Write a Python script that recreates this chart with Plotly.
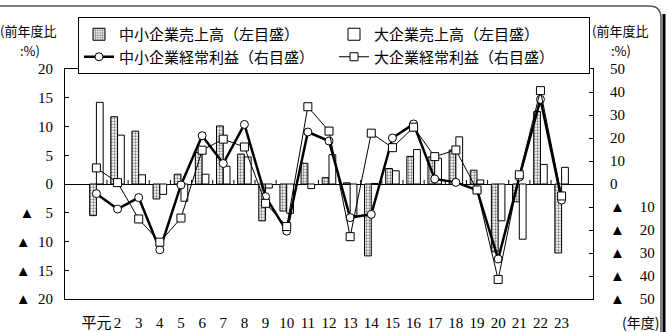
import plotly.graph_objects as go

# ---------------- data ----------------
years = ["平元", "2", "3", "4", "5", "6", "7", "8", "9", "10", "11", "12",
         "13", "14", "15", "16", "17", "18", "19", "20", "21", "22", "23"]

sme_sales = [-5.5, 11.7, 9.2, -2.6, 1.7, 5.5, 10.1, 5.2, -6.4, -4.7, 3.6, 1.1,
             0.2, -12.5, 2.7, 4.8, 4.7, 5.9, 2.4, -11.8, -3.1, 12.6, -12.0]
large_sales = [14.2, 8.5, 1.6, -1.8, -3.0, 1.7, 3.1, 4.7, -0.7, -5.1, -0.8, 5.1,
               -5.5, 0.1, 2.3, 6.0, 4.5, 8.2, 0.7, -6.4, -9.6, 3.4, 2.9]
sme_profit = [-4.2, -10.9, -5.9, -28.6, -0.4, 21.0, 8.9, 25.9, -5.5, -20.5, 22.6, 18.7,
              -14.6, -13.2, 20.0, 26.1, 2.2, 0.7, -2.6, -32.6, 3.0, 36.8, -7.0]
large_profit = [7.0, 0.6, -15.2, -25.3, -14.8, 14.7, 19.5, 16.1, -8.4, -18.5, 33.6, 23.0,
                -22.9, 22.1, 15.8, 24.7, 11.9, 14.8, -2.6, -41.5, 4.0, 40.6, -5.2]

left_ticks = [20, 15, 10, 5, 0, -5, -10, -15, -20]
right_ticks = [50, 40, 30, 20, 10, 0, -10, -20, -30, -40, -50]

names = ["中小企業売上高（左目盛）", "大企業売上高（左目盛）",
         "中小企業経常利益（右目盛）", "大企業経常利益（右目盛）"]

def tri_label(v, pad):
    return f"{v}" if v >= 0 else "▲" + pad + f"{-v}"

left_text = [tri_label(v, "\u2002" if abs(v) >= 10 else "\u2002 ") for v in left_ticks]
right_text = [tri_label(v, "\u2002\u2002") for v in right_ticks]

# ---------------- layout geometry ----------------
W, H = 667, 332
L, R, T, B = 65, 74, 69, 33
PW, PH = W - L - R, H - T - B

def px(x):
    return (x - L) / PW

def py(y):
    return (H - B - y) / PH

SERIF = "Liberation Serif, Noto Sans CJK JP"
CJK = "Noto Sans CJK JP, Liberation Serif"

fig = go.Figure()

fig.add_trace(go.Bar(
    x=years, y=sme_sales, name=names[0],
    marker=dict(color="white", line=dict(color="black", width=1),
                pattern=dict(shape=".", fgcolor="black", bgcolor="white",
                             size=3, solidity=0.45)),
))
fig.add_trace(go.Bar(
    x=years, y=large_sales, name=names[1],
    marker=dict(color="white", line=dict(color="black", width=1)),
))
fig.add_trace(go.Scatter(
    x=years, y=sme_profit, name=names[2], yaxis="y2", mode="lines+markers",
    line=dict(color="black", width=2.5),
    marker=dict(symbol="circle", size=8, color="white",
                line=dict(color="black", width=1)),
))
fig.add_trace(go.Scatter(
    x=years, y=large_profit, name=names[3], yaxis="y2", mode="lines+markers",
    line=dict(color="black", width=1),
    marker=dict(symbol="square", size=8, color="white",
                line=dict(color="black", width=1)),
))

shapes = []
# small category boundary ticks on the zero line
for i in range(len(years) - 1):
    shapes.append(dict(type="line", xref="x", yref="y", x0=i + 0.5, x1=i + 0.5,
                       y0=0, y1=0.7, line=dict(color="black", width=1)))
# legend shadow
shapes.append(dict(type="rect", xref="paper", yref="paper",
                   x0=px(82), x1=px(581), y0=py(20), y1=py(64),
                   fillcolor="black", line=dict(width=0), layer="above"))
# outer rounded frame
r = 12
path = (f"M {px(-10)},{py(6)} L {px(661 - r)},{py(6)} "
        f"Q {px(661)},{py(6)} {px(661)},{py(6 + r)} "
        f"L {px(661)},{py(340)}")
shapes.append(dict(type="path", xref="paper", yref="paper", path=path,
                   line=dict(color="#555", width=1.5)))
shapes.append(dict(type="line", xref="paper", yref="paper",
                   x0=px(664), x1=px(664), y0=py(14), y1=py(340),
                   line=dict(color="black", width=3)))

def note(text, x, y, size=13):
    return dict(text=text, x=px(x), y=py(y), xref="paper", yref="paper",
                xanchor="center", yanchor="middle", showarrow=False,
                font=dict(family=CJK, size=size, color="black"))

annotations = [
    note("(前年度比", 28, 30), note(":%)", 30, 50),
    note("(前年度比", 620, 30), note(":%)", 621, 50),
    note("(年度)", 640, 322, 14),
]

fig.update_layout(
    width=W, height=H,
    margin=dict(l=L, r=R, t=T, b=B, pad=0, autoexpand=False),
    paper_bgcolor="white", plot_bgcolor="white",
    barmode="group", bargap=0.36, bargroupgap=0,
    font=dict(family=SERIF, size=15, color="black"),
    showlegend=True,
    legend=dict(orientation="h", x=px(78), y=py(17), xanchor="left", yanchor="top",
                bgcolor="white", bordercolor="black", borderwidth=1,
                font=dict(family=CJK, size=15, color="black"),
                entrywidth=210, entrywidthmode="pixels", itemwidth=30,
                traceorder="normal", tracegroupgap=0),
    xaxis=dict(type="category", showline=True, linecolor="black", linewidth=1,
               mirror=True, ticks="", showgrid=False, tickangle=0, automargin=False,
               tickfont=dict(family=SERIF, size=15), ticklabelstandoff=10),
    yaxis=dict(range=[-20, 20], tickvals=left_ticks, ticktext=left_text,
               showline=True, linecolor="black", linewidth=1, ticks="inside",
               ticklen=4, tickcolor="black", showgrid=False, automargin=False,
               zeroline=True, zerolinecolor="black", zerolinewidth=1,
               tickfont=dict(family=SERIF, size=15), ticklabelstandoff=8),
    yaxis2=dict(range=[-50, 50], tickvals=right_ticks, ticktext=right_text,
                overlaying="y", side="right", showline=True, linecolor="black",
                linewidth=1, ticks="inside", ticklen=4, tickcolor="black",
                showgrid=False, zeroline=False, automargin=False,
                tickfont=dict(family=SERIF, size=15), ticklabelstandoff=13),
    shapes=shapes,
    annotations=annotations,
)

fig.write_html("out.html")
